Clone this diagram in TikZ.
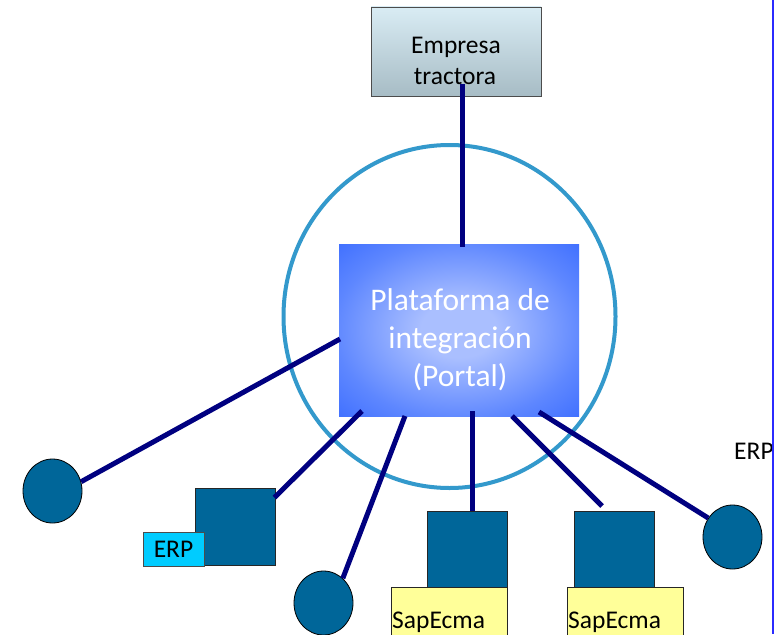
\documentclass[tikz,border=0pt]{standalone}
\usepackage{fontspec}
\setmainfont{Carlito}
\usetikzlibrary{shapes.geometric,calc}
\definecolor{navy}{HTML}{000080}
\definecolor{ringc}{HTML}{3399CC}
\definecolor{pout}{HTML}{3366FF}
\definecolor{pmid}{HTML}{5E87FF}
\definecolor{pin}{HTML}{AABFFF}
\definecolor{devfill}{HTML}{006699}
\definecolor{yel}{HTML}{FFFF99}
\definecolor{erpc}{HTML}{00CCFF}
\definecolor{etop}{HTML}{D9ECF4}
\definecolor{ebot}{HTML}{A7BCC5}
\definecolor{vline}{HTML}{2B2BFF}
\pgfdeclareradialshading{portalshade}{\pgfpoint{0bp}{0bp}}{color(0bp)=(pin); color(8bp)=(pin); color(26bp)=(pmid); color(40bp)=(pout); color(50bp)=(pout)}
\begin{document}
\begin{tikzpicture}[x=1pt,y=-1pt,
  conn/.style={draw=navy, line width=5pt},
  station/.style={draw=black!85, fill=devfill, line width=0.8pt, minimum width=80pt, minimum height=77pt, inner sep=0pt},
  endpt/.style={ellipse, draw=black, fill=devfill, line width=0.8pt, minimum width=59pt, minimum height=64pt, inner sep=0pt},
  yelbox/.style={draw=black!85, fill=yel, line width=0.8pt, anchor=north west, minimum height=58pt, inner sep=0pt},
  txt/.style={inner sep=0pt, font=\fontsize{25.5}{31}\selectfont},
  bigtxt/.style={inner sep=0pt, anchor=base, text=white, font=\fontsize{31.5}{38.4}\selectfont}
]
\clip (0,0) rectangle (781,634);
\fill[white] (0,0) rectangle (781,634);

% ring and portal
\node[ellipse, draw=ringc, line width=4pt, minimum width=332pt, minimum height=343pt, inner sep=0pt] (ring) at (449.5,316.5) {};
\node[shading=portalshade, minimum width=240pt, minimum height=172pt, inner sep=0pt] (portal) at (459,330) {};
\node[bigtxt] (pt1) at (460,310) {Plataforma de};
\node[bigtxt] (pt2) at (460,348) {integración};
\node[bigtxt] (pt3) at (460,386) {(Portal)};

% Empresa tractora
\node[draw=black!70, line width=0.8pt, top color=etop, bottom color=ebot, minimum width=170pt, minimum height=89pt, inner sep=0pt] (emp) at (456,51.5) {};
\node[txt, anchor=base] (et1) at (456,53) {Empresa};
\node[txt, anchor=base] (et2) at (455,84) {tractora};

% connector end points
\coordinate (eTop) at (462,84);
\coordinate (pTop) at (462,247);
\coordinate (pL) at (340,339);
\coordinate (pSq1) at (362,411);
\coordinate (pC2) at (405,416);
\coordinate (pB) at (472,411);
\coordinate (pSq3) at (512,416);
\coordinate (eSq3) at (602,506);
\coordinate (pC3) at (539,412);

% devices
\node[endpt] (c1) at (52.5,491) {};
\node[station] (sq1) at (235,526.5) {};
\node[endpt] (c2) at (323.5,603) {};
\node[station, minimum height=76pt] (sq2) at (467.7,549) {};
\node[station, minimum height=76pt] (sq3) at (614,549) {};
\node[endpt] (c3) at (732.5,537) {};

% connectors
\draw[conn] (eTop) -- (pTop);
\draw[conn] (pL) -- (c1.18);
\draw[conn] (pSq1) -- ($(sq1.north east)+(-1,10)$);
\draw[conn] (pC2) -- (c2.52);
\draw[conn] (pB) -- (pB |- sq2.north);
\draw[conn] (pSq3) -- (eSq3);
\draw[conn] (pC3) -- (c3.142);

% labels
\node[draw=black!70, fill=erpc, line width=0.8pt, minimum width=61pt, minimum height=34pt, inner sep=0pt, txt] (erp1) at (173.5,549) {ERP};
\node[yelbox, minimum width=115.7pt] (y1) at (391,587) {};
\node[yelbox, minimum width=116pt] (y2) at (566.7,587) {};
\node[txt, anchor=base west] (s1) at (392,628) {SapEcma};
\node[txt, anchor=base west] (s2) at (568,628) {SapEcma};
\node[txt, anchor=base west] (erp2) at (734,459) {ERP};

\draw[vline, line width=2pt] (773.3,0) -- (773.3,634);
\end{tikzpicture}
\end{document}
